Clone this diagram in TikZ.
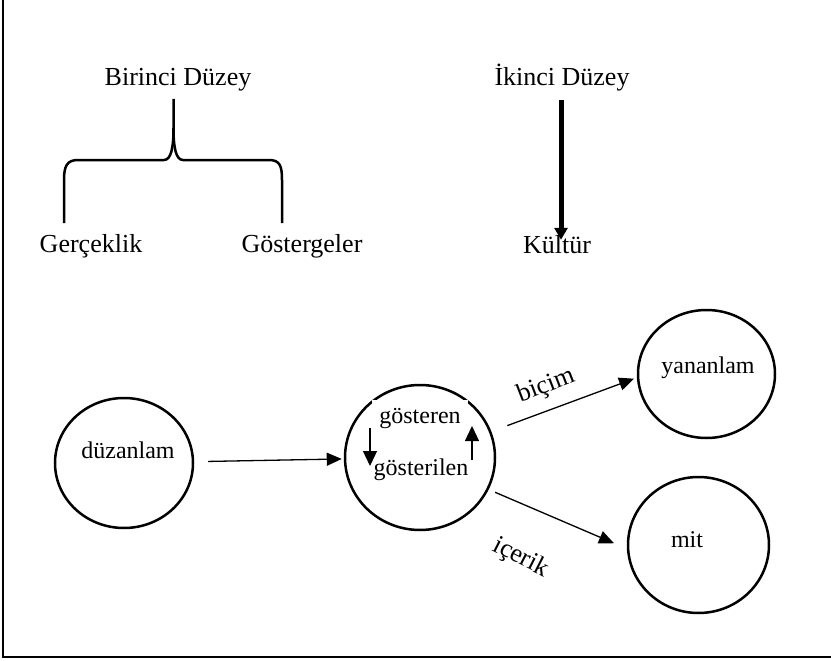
\documentclass[tikz,border=0pt]{standalone}
\usepackage{fontspec}
\setmainfont{Liberation Serif}
\usetikzlibrary{arrows.meta,shapes.geometric}

\tikzset{
  ring/.style={draw, ellipse, line width=2.5pt, inner sep=0pt},
  big/.style={font=\fontsize{26}{30}\selectfont, anchor=base, inner sep=0pt},
  small/.style={font=\fontsize{24}{28}\selectfont, anchor=base, inner sep=0pt},
  arr/.style={-{Triangle[length=15pt,width=13pt]}, line width=1.3pt},
  sarr/.style={-{Triangle[length=15pt,width=14pt]}, line width=1.3pt},
}

\begin{document}
\begin{tikzpicture}[x=1pt,y=-1pt]
\useasboundingbox (0,0) rectangle (831,661);
% frame
\draw[line width=2pt] (3,0) -- (3,657) -- (831,657);

% first level
\node[big] (bir) at (178,85) {Birinci Düzey};
\node[big] (ger) at (91,252) {Gerçeklik};
\node[big] (gst) at (302,252) {Göstergeler};
% brace
\draw[line width=2.5pt] (64,223) -- (64,180) .. controls (64,166) and (67,160) .. (78,160)
  -- (164,160) .. controls (171,160) and (173.5,148) .. (173.5,128) -- (173.5,99);
\draw[line width=2.5pt] (173.5,128) .. controls (173.5,148) and (176,160) .. (183,160)
  -- (269,160) .. controls (280,160) and (282,166) .. (282,180) -- (282,223);

% second level
\node[big] (ik) at (562,85) {İkinci Düzey};
\node[big] (kul) at (557,253) {Kültür};
\draw[-{Triangle[length=12pt,width=13pt]}, line width=5pt, shorten <=9pt, shorten >=-5pt]
  ([xshift=-1pt]ik.south) -- ([xshift=-1pt]ik.south |- kul.north);

% circles
\foreach \n/\x/\y/\w/\h in {duz/124/463/138/130, gos/420/457.5/150/145,
                            yan/706.5/374/137/128, mit/698.5/545/141/136} {
  \node[ring, minimum width=\w pt, minimum height=\h pt] (\n) at (\x,\y) {};
}
\node[small] (duzt) at (128,458) {düzanlam};
\node[small] (yant) at (708,373) {yananlam};
\node[small] (mitt) at (687,547) {mit};
\node[small, fill=white, inner xsep=7pt, inner ysep=8pt] (gsn) at (420,423) {gösteren};
\node[small] (gsl) at (421,475) {gösterilen};

% sign loop
\coordinate (d0) at (370,428);
\coordinate (d1) at (370,466);
\coordinate (u0) at (472,460);
\coordinate (u1) at (472,426);
\draw[sarr] (d0) -- (d1);
\draw[sarr] (u0) -- (u1);

% links
\draw[arr, shorten <=14pt, shorten >=2pt] (duz) -- (gos);
\draw[arr, shorten <=17pt, shorten >=3pt] (gos.20) -- (yan.183);
\draw[arr, shorten <=7pt, shorten >=14pt] (gos.335) -- (mit.183);
\node[big, anchor=center, rotate=21] (bic) at (546,386) {biçim};
\node[big, anchor=center, rotate=-27] (ice) at (521,558) {içerik};
\end{tikzpicture}
\end{document}
